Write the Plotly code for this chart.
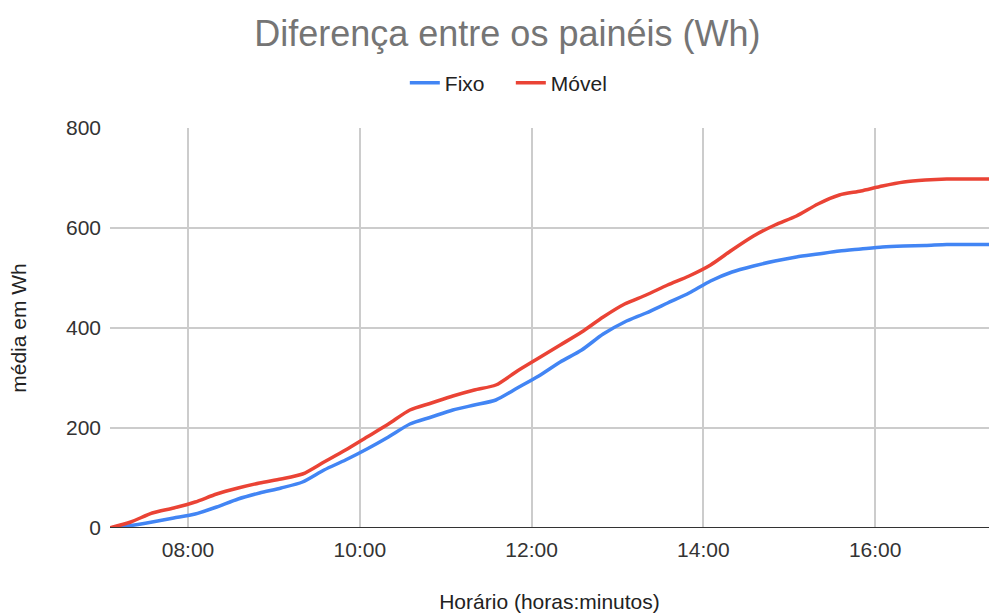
import plotly.graph_objects as go

times = ["07:05", "07:20", "07:35", "07:50", "08:05", "08:20", "08:35", "08:50",
         "09:05", "09:20", "09:35", "09:50", "10:05", "10:20", "10:35", "10:50",
         "11:05", "11:20", "11:35", "11:50", "12:05", "12:20", "12:35", "12:50",
         "13:05", "13:20", "13:35", "13:50", "14:05", "14:20", "14:35", "14:50",
         "15:05", "15:20", "15:35", "15:50", "16:05", "16:20", "16:35", "16:50",
         "17:05", "17:20"]
fixo = [0, 5, 12, 20, 28, 42, 58, 70, 80, 92, 116, 136, 158, 182, 208, 222,
        236, 246, 256, 280, 304, 332, 356, 388, 412, 430, 450, 470, 494, 512,
        524, 534, 542, 548, 554, 558, 562, 564, 565, 567, 567, 567]
movel = [0, 12, 30, 40, 52, 68, 80, 90, 98, 108, 132, 156, 182, 208, 236, 250,
         264, 276, 286, 314, 340, 366, 392, 422, 448, 466, 486, 504, 526, 556,
         584, 606, 624, 648, 666, 674, 684, 692, 696, 698, 698, 698]
series_names = ["Fixo", "Móvel"]
colors = ["#4285F4", "#EA4335"]

x = ["2024-01-01 " + t for t in times]

fig = go.Figure()
for name, vals, c in zip(series_names, [fixo, movel], colors):
    fig.add_trace(go.Scatter(x=x, y=vals, name=name, mode="lines",
                             line=dict(color=c, width=3.5, shape="spline", smoothing=0.7)))

font = "Liberation Sans, Arial, sans-serif"
txt = "#333333"
fig.update_layout(
    width=989, height=614,
    paper_bgcolor="white", plot_bgcolor="white",
    margin=dict(l=110, r=0, t=128, b=86),
    font=dict(family=font, color=txt, size=21),
    title=dict(text="Diferença entre os painéis (Wh)", x=0.513, xanchor="center",
               y=0.946, yanchor="middle",
               font=dict(size=36, color="#757575", family=font)),
    legend=dict(orientation="h", x=0.456, xanchor="center", y=1.1125, yanchor="middle",
                font=dict(size=21, color="#222222"), itemwidth=30,
                entrywidth=61),
    showlegend=True,
)
fig.update_xaxes(
    type="date", automargin=False,
    range=["2024-01-01 07:05:30", "2024-01-01 17:19:30"],
    tickformat="%H:%M", dtick=2 * 3600 * 1000, tick0="2024-01-01 08:00",
    showgrid=True, gridcolor="#CCCCCC", gridwidth=1.5,
    showline=False, zeroline=False, ticks="",
    ticklabelstandoff=7,
    tickfont=dict(size=21, color=txt),
    title=dict(text="Horário (horas:minutos)", font=dict(size=21, color="#222222"), standoff=34),
)
fig.update_yaxes(
    range=[0, 800], dtick=200, automargin=False,
    showgrid=True, gridcolor="#CCCCCC", gridwidth=1.5,
    zeroline=False, showline=False, ticks="",
    ticklabelstandoff=8,
    tickfont=dict(size=21, color=txt),
    title=dict(text="média em Wh", font=dict(size=21, color="#222222"), standoff=33),
)
fig.add_shape(type="line", xref="paper", yref="y", x0=0, x1=1, y0=0, y1=0,
              line=dict(color="#333333", width=2))

fig.write_html("out.html")
